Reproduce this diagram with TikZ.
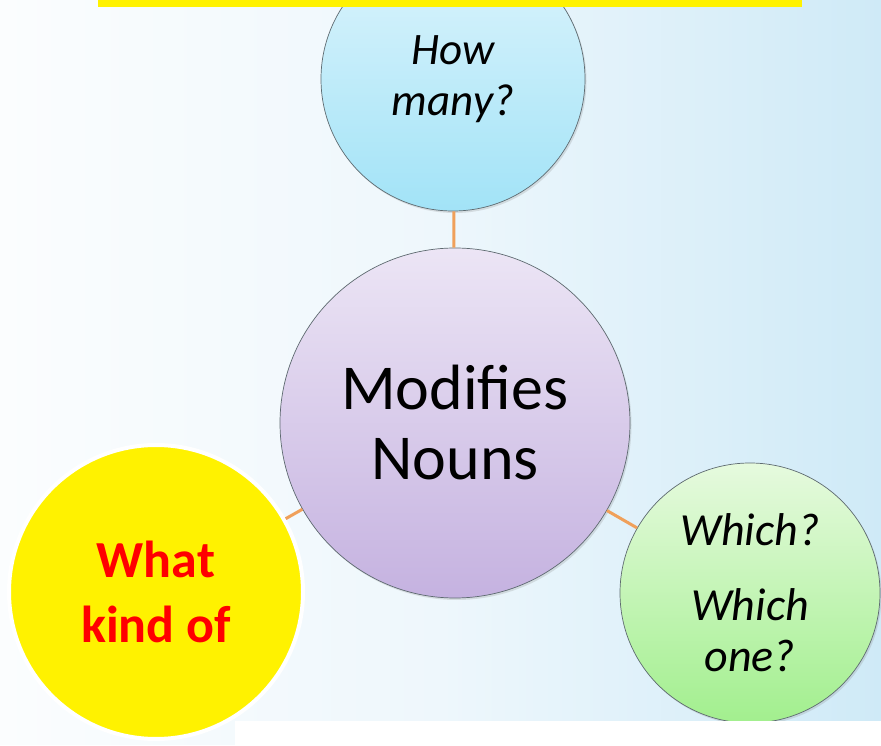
\documentclass[tikz,border=0pt]{standalone}
\usepackage{fontspec}
\setmainfont{Carlito}
\usetikzlibrary{shadows}
\definecolor{bgleft}{HTML}{FBFDFE}
\definecolor{bgmid}{HTML}{EEF7FC}
\definecolor{bgright}{HTML}{CFEAF7}
\definecolor{cyantop}{HTML}{DDF4FC}
\definecolor{cyanbot}{HTML}{A2E3F7}
\definecolor{lavtop}{HTML}{ECE5F5}
\definecolor{lavbot}{HTML}{C5B2E0}
\definecolor{greentop}{HTML}{E6FADE}
\definecolor{greenbot}{HTML}{A2EF8E}
\definecolor{linkorange}{HTML}{F0A05A}
\definecolor{rimgray}{HTML}{5E6A70}
\begin{document}
\begin{tikzpicture}[x=1pt,y=1pt,
  bubble/.style={circle, inner sep=0pt, draw=rimgray, line width=0.7pt,
    align=center, text=black,
    drop shadow={opacity=0.22, shadow xshift=1.5pt, shadow yshift=-2pt}},
  link/.style={draw=linkorange, line width=3pt}]
  \useasboundingbox (0,0) rectangle (881,745);
  % backdrop with a white strip along the lower edge
  \shade[left color=bgleft, right color=bgright, middle color=bgmid]
    (0,745) -- (881,745) -- (881,24) -- (235,24) -- (235,0) -- (0,0) -- cycle;
  \fill[white] (235,0) rectangle (881,24);
  % bubbles
  \node[bubble, minimum size=264pt, top color=cyantop, bottom color=cyanbot,
        font=\fontsize{45}{51}\selectfont\itshape]
    (top) at (453,666) {How\\many?};
  \node[bubble, minimum size=350pt, top color=lavtop, bottom color=lavbot,
        font=\fontsize{64}{70}\selectfont]
    (main) at (455,322) {Modifies\\Nouns};
  \node[bubble, minimum size=260pt, top color=greentop, bottom color=greenbot,
        font=\fontsize{46}{51}\selectfont\itshape]
    (which) at (750,152) {Which?\\[24pt]Which\\one?};
  \fill[white] (235,0) rectangle (881,24);
  % connectors
  \draw[link] (main) -- (top);
  \draw[link] (main) -- (which);
  \node[circle, inner sep=0pt, minimum size=294pt, fill=yellow, draw=white,
        line width=4pt, text=red, align=center,
        font=\fontsize{52}{65}\selectfont\bfseries]
    (kind) at (156,153) {What\\kind of};
  \draw[link] (main) -- (kind);
  % banner strip along the top edge
  \fill[yellow] (98,738) rectangle (802,745);
\end{tikzpicture}
\end{document}
